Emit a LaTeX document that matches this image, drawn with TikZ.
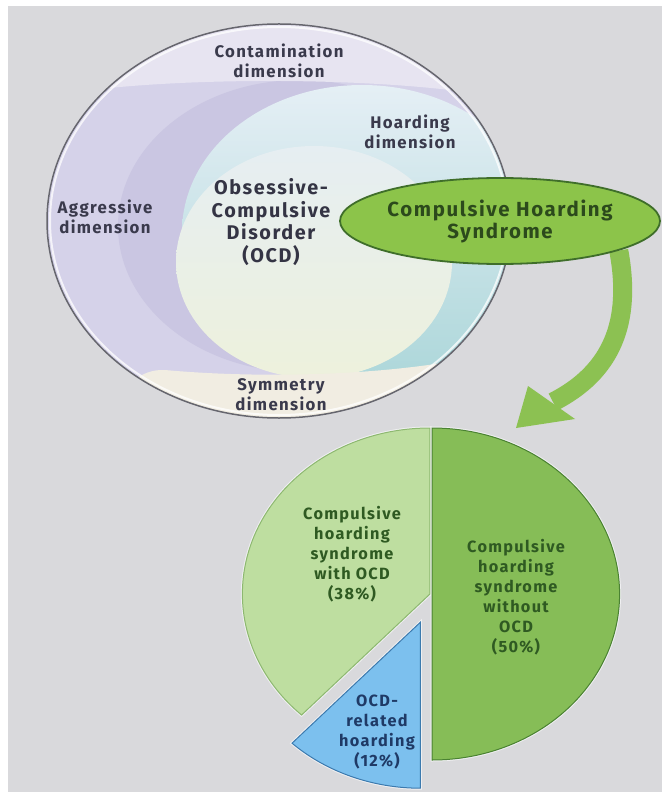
\documentclass[tikz,border=0pt]{standalone}
\usepackage{fontspec}
\setmainfont{Fira Sans}
\newfontfamily\lblfont{Fira Sans}[LetterSpace=8]
\usetikzlibrary{shapes.geometric}
\pgfdeclarelayer{bg}
\pgfdeclarelayer{arr}
\pgfsetlayers{bg,arr,main}
\definecolor{bggray}{HTML}{D9D9DC}
\definecolor{lav}{HTML}{D5D2E9}
\definecolor{lavdark}{HTML}{CAC6E2}
\definecolor{contband}{HTML}{E8E6F2}
\definecolor{symband}{HTML}{F1EDE2}
\definecolor{hblue}{HTML}{E5EFF5}
\definecolor{hteal}{HTML}{ADD7DA}
\definecolor{ocdtop}{HTML}{E6EEF2}
\definecolor{ocdbot}{HTML}{EDF1DC}
\definecolor{circline}{HTML}{66666E}
\definecolor{dimtext}{HTML}{3A3A4C}
\definecolor{chsfill}{HTML}{8CC44A}
\definecolor{chsborder}{HTML}{3F6E2A}
\definecolor{chstext}{HTML}{2C4A1C}
\definecolor{arrowgreen}{HTML}{8CC152}
\definecolor{darkslice}{HTML}{86BD57}
\definecolor{darksliceb}{HTML}{4A8232}
\definecolor{lightslice}{HTML}{BEDEA0}
\definecolor{lightsliceb}{HTML}{8DB870}
\definecolor{blueslice}{HTML}{7CC0EE}
\definecolor{bluesliceb}{HTML}{3C7AAE}
\definecolor{pietext}{HTML}{2F5A22}
\definecolor{bluetext}{HTML}{1F3A66}
\begin{document}
\begin{tikzpicture}[x=1pt,y=-1pt,
  dim/.style={align=center,inner sep=0pt,text=dimtext,font=\lblfont\bfseries\fontsize{16.8}{20}\selectfont},
  ocdlbl/.style={align=center,inner sep=0pt,text=dimtext!90!black,font=\lblfont\bfseries\fontsize{19.8}{22.5}\selectfont},
  chslbl/.style={ellipse,draw=chsborder,line width=1.8pt,fill=chsfill,minimum width=320pt,minimum height=86pt,inner sep=0pt,align=center,text=chstext,font=\lblfont\bfseries\fontsize{20.4}{22}\selectfont},
  piegreen/.style={align=center,inner sep=0pt,text=pietext,font=\lblfont\bfseries\fontsize{16.3}{20}\selectfont},
  pieblue/.style={align=center,inner sep=0pt,text=bluetext,font=\lblfont\bfseries\fontsize{16.3}{20}\selectfont},
  halo/.style={draw=white,line width=3pt,opacity=.6}]
\useasboundingbox (0,0) rectangle (662,799);
\begin{pgfonlayer}{bg}
\fill[white] (0,0) rectangle (662,799);
\fill[bggray] (8,6) rectangle (662,792);
\end{pgfonlayer}
% big circle with overlapping dimensions
\begin{scope}
\clip (279,221) ellipse [x radius=232, y radius=197];
\fill[lav] (40,20) rectangle (520,425);
\fill[lavdark] (300,226) ellipse [x radius=182, y radius=146];
\shade[top color=hblue, bottom color=hteal] (362,232) ellipse [x radius=180, y radius=147];
\shade[top color=ocdtop, bottom color=ocdbot] (314,262) ellipse [x radius=138, y radius=116];
\fill[contband, opacity=.95] (30,20) -- (30,100) .. controls (140,74) and (420,74) .. (530,104) -- (530,20) -- cycle;
\fill[symband] (100,440) -- (100,420) .. controls (125,385) and (140,369) .. (165,370) .. controls (240,377) and (360,378) .. (460,360) -- (530,340) -- (530,440) -- cycle;
\end{scope}
\draw[white, opacity=.75, line width=2pt] (279,221) ellipse [x radius=229, y radius=194];
\draw[circline, line width=1.5pt] (279,221) ellipse [x radius=232, y radius=197];
\node[dim] (cont) at (279,61) {Contamination\\dimension};
\node[dim] (hoard) at (410,132) {Hoarding\\dimension};
\node[dim] (aggr) at (105,217) {Aggressive\\dimension};
\node[dim] (symm) at (281,395) {Symmetry\\dimension};
\node[ocdlbl] (ocd) at (271,222) {Obsessive-\\Compulsive\\Disorder\\(OCD)};
% compulsive hoarding syndrome ellipse
\node[chslbl] (chs) at (500,221) {Compulsive Hoarding\\Syndrome};
% arrow
\coordinate (shaftend) at (553,402);
\coordinate (tip) at (516,428);
\coordinate (wingA) at (528,386);
\coordinate (wingB) at (575,419);
\begin{pgfonlayer}{arr}
\draw[arrowgreen, line width=19pt] (chs.-14) .. controls (632,322) and (612,372) .. (shaftend);
\fill[arrowgreen] (tip) -- (wingA) -- (wingB) -- cycle;
\end{pgfonlayer}
% pie chart
\begin{scope}[shift={(432,594)}, xscale=1.13, yscale=-1]
\path[halo] (0,0) -- (90:166) arc[start angle=90, end angle=-90, radius=166] -- cycle;
\begin{scope}[shift={(-1.8,0)}]
\path[halo] (0,0) -- (90:166) arc[start angle=90, end angle=226.8, radius=166] -- cycle;
\end{scope}
\begin{scope}[shift={(250:30)}]
\path[halo] (0,0) -- (226.8:166) arc[start angle=226.8, end angle=270, radius=166] -- cycle;
\end{scope}
\filldraw[fill=darkslice, draw=darksliceb, line width=1pt] (0,0) -- (90:166) arc[start angle=90, end angle=-90, radius=166] -- cycle;
\begin{scope}[shift={(-1.8,0)}]
\filldraw[fill=lightslice, draw=lightsliceb, line width=1pt] (0,0) -- (90:166) arc[start angle=90, end angle=226.8, radius=166] -- cycle;
\end{scope}
\begin{scope}[shift={(250:30)}]
\filldraw[fill=blueslice, draw=bluesliceb, line width=1pt] (0,0) -- (226.8:166) arc[start angle=226.8, end angle=270, radius=166] -- cycle;
\end{scope}
\end{scope}
\node[piegreen] (withocd) at (352,554) {Compulsive\\hoarding\\syndrome\\with OCD\\(38\%)};
\node[piegreen] (withoutocd) at (516,597) {Compulsive\\hoarding\\syndrome\\without\\OCD\\(50\%)};
\node[pieblue] (related) at (377,732) {OCD-\\related\\hoarding\\(12\%)};
\end{tikzpicture}
\end{document}
